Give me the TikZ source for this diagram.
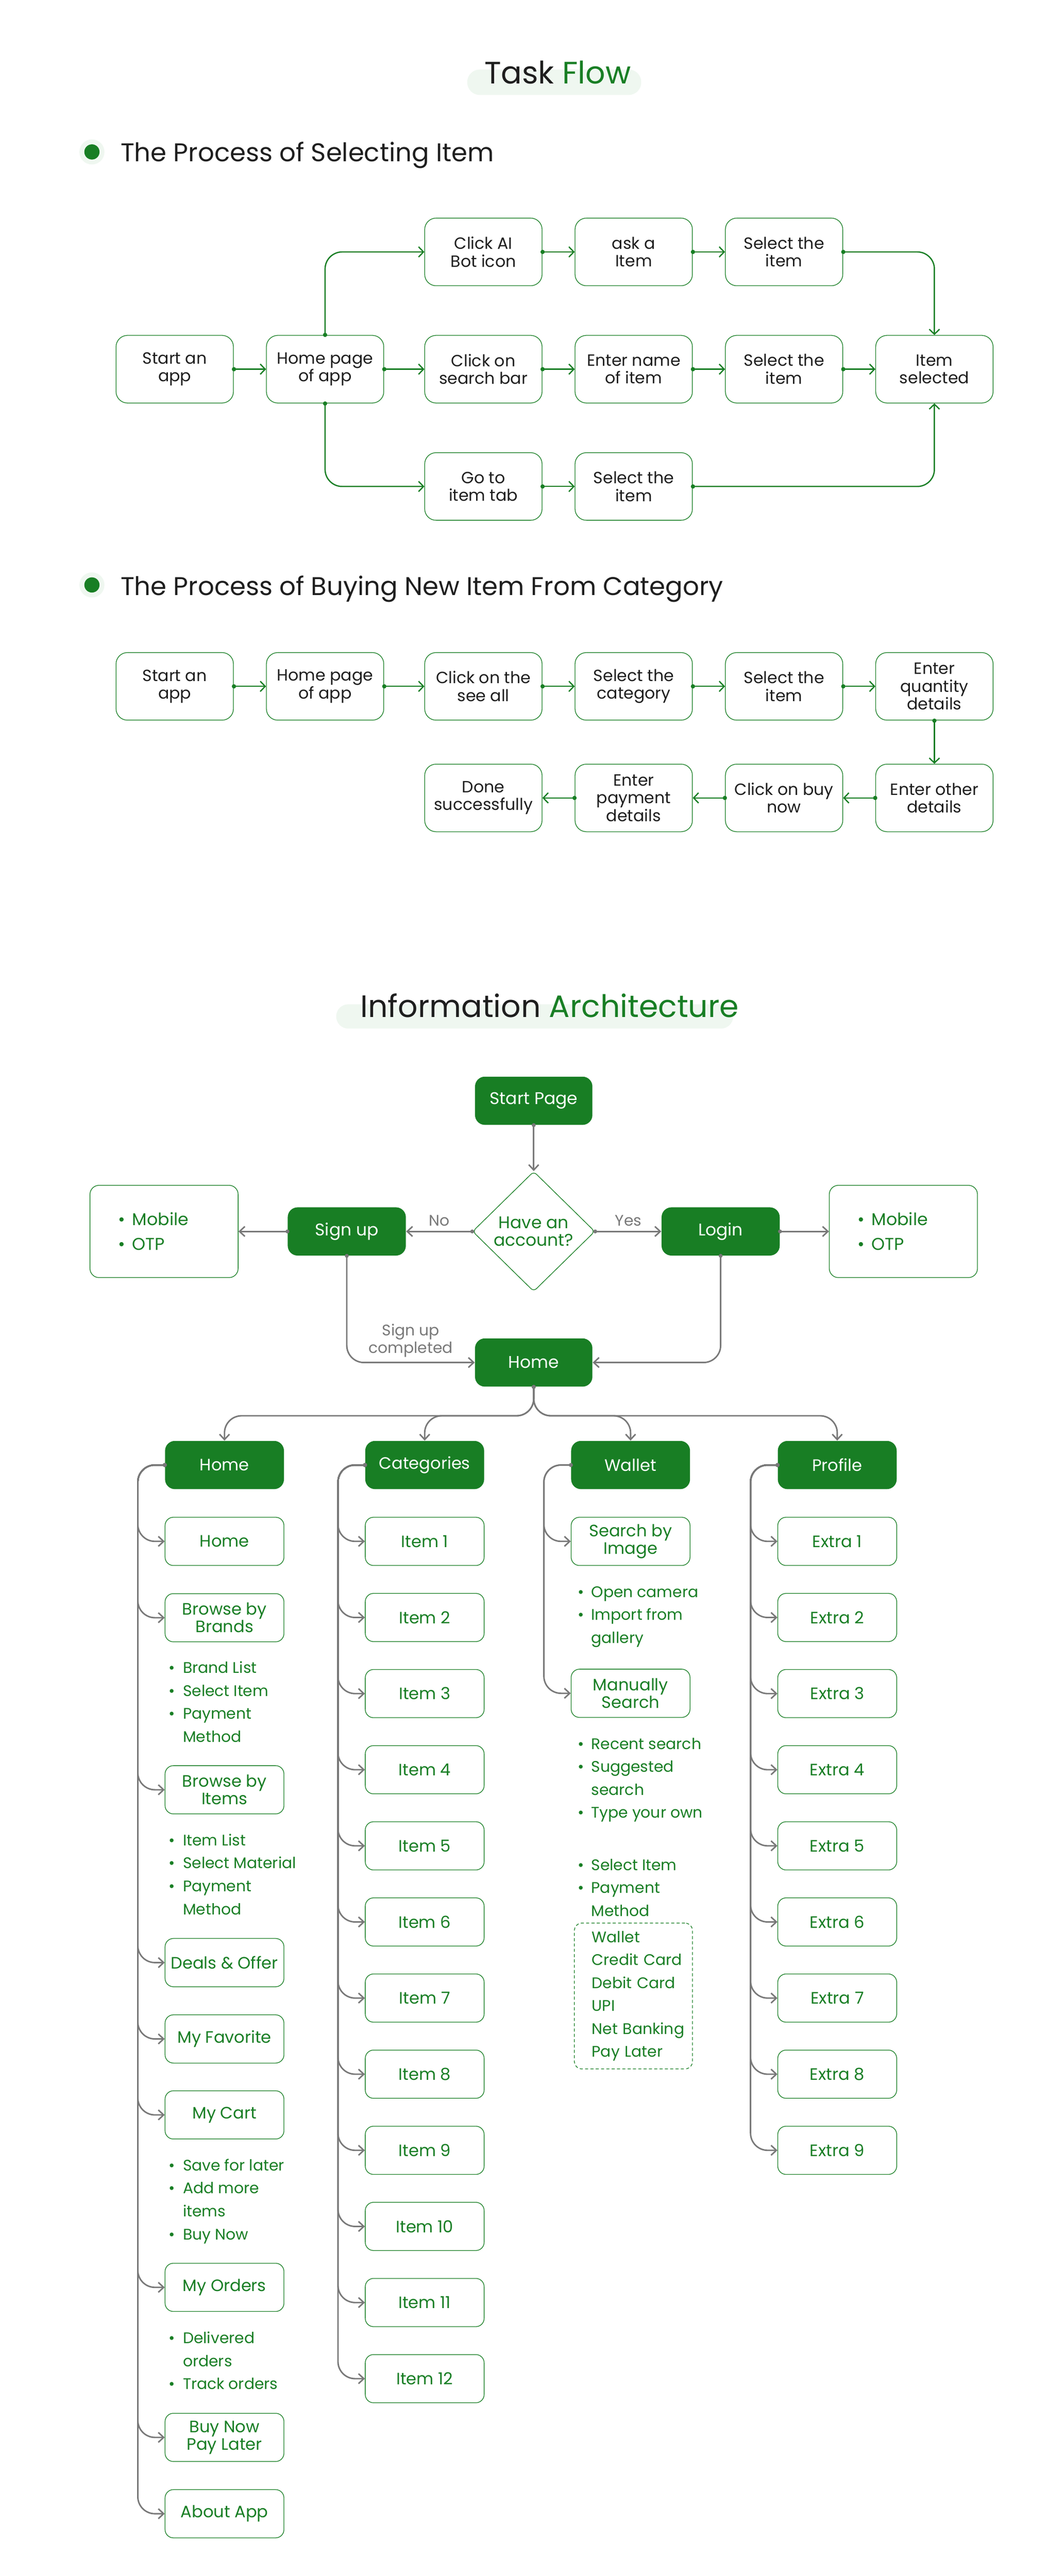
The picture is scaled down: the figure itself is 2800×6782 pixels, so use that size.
\documentclass[tikz,border=0pt]{standalone}
\usepackage{fontspec}
\setmainfont{Poppins}
\usetikzlibrary{arrows.meta, positioning, shapes.geometric}

\definecolor{leaf}{HTML}{187E24}
\definecolor{ink}{HTML}{1E1E1E}
\definecolor{slate}{HTML}{787878}
\definecolor{mist}{HTML}{EFF7F0}

\newcommand\ttlfont{\fontsize{23.2}{27}\selectfont}
\newcommand\hdgfont{\fontsize{19.2}{23}\selectfont}
\newcommand\flowfont{\fontsize{12.2}{13.3}\selectfont}
\newcommand\iafont{\fontsize{12.4}{13.1}\selectfont}
\newcommand\lstfont{\fontsize{11.5}{17.2}\selectfont}
\newcommand\notefont{\fontsize{12.7}{13.4}\selectfont}
\newcommand\lblfont{\fontsize{11.5}{13.4}\selectfont}
\newcommand\sidefont{\fontsize{12.8}{18.5}\selectfont}

\tikzstyle{flowbox}=[draw=leaf, line width=0.5pt, rounded corners=3mm, minimum width=30.9mm, minimum height=17.8mm, inner sep=1mm, align=center, text=ink, font=\flowfont]
\tikzstyle{flowarrow}=[draw=leaf, line width=0.95pt, rounded corners=4.5mm, shorten <=-0.5mm, {Circle[length=1.1mm]}-{Straight Barb[length=1.3mm, width=2.7mm]}]
\tikzstyle{hdrbox}=[fill=leaf, text=white, rounded corners=2.6mm, minimum width=31.3mm, minimum height=12.7mm, inner sep=1mm, align=center, font=\iafont]
\tikzstyle{subbox}=[draw=leaf, line width=0.5pt, text=leaf, rounded corners=2.2mm, minimum width=31.3mm, minimum height=12.7mm, inner sep=1mm, align=center, font=\iafont]
\tikzstyle{iaarrow}=[draw=slate, line width=1.1pt, rounded corners=4.5mm, shorten <=-0.5mm, {Circle[length=1mm]}-{Straight Barb[length=1.4mm, width=2.6mm]}]
\tikzstyle{ask}=[diamond, draw=leaf, line width=0.5pt, rounded corners=1mm, minimum width=32.2mm, minimum height=31.6mm, inner sep=0pt, align=center, text=leaf, font=\notefont]
\tikzstyle{sidebox}=[draw=leaf, line width=0.5pt, rounded corners=2.4mm, minimum width=39mm, minimum height=24.3mm, text width=24mm, inner xsep=7.5mm, align=left, text=leaf, font=\sidefont]
\tikzstyle{paybox}=[draw=leaf, line width=0.5pt, dash pattern=on 0.8mm off 0.6mm, rounded corners=2mm, minimum width=31.1mm, minimum height=38.4mm, text width=21.9mm, inner xsep=4.6mm, align=left, text=leaf, font=\lstfont]
\tikzstyle{blist}=[anchor=base west, inner sep=0pt, text=leaf, font=\lstfont]
\tikzstyle{lbl}=[text=slate, font=\lblfont, align=center]

\begin{document}
\begin{tikzpicture}[x=0.1mm, y=-0.1mm, node distance=12.9mm and 8.5mm]
  \useasboundingbox (0,0) rectangle (2800,6782);
  \fill[white] (0,0) rectangle (2800,6782);

  % task flow
  \fill[mist, rounded corners=3.3mm] (1230,183) rectangle (1688,250);
  \node[anchor=base, font=\ttlfont, text=ink] (tftitle) at (1468,221) {Task \textcolor{leaf}{Flow}};

  \fill[mist] (242,400) circle (3.3mm);
  \fill[leaf] (242,400) circle (2mm);
  \node[anchor=base west, font=\hdgfont, text=ink] (selhead) at (305,425) {The Process of Selecting Item};

  \node[flowbox] (a1) at (460,972) {Start an\\app};
  \node[flowbox, right=of a1] (a2) {Home page\\of app};
  \node[flowbox, right=10.6mm of a2] (a3) {Click on\\search bar};
  \node[flowbox, right=of a3] (a4) {Enter name\\of item};
  \node[flowbox, right=of a4] (a5) {Select the\\item};
  \node[flowbox, right=of a5] (a6) {Item\\selected};
  \node[flowbox, above=of a3] (b3) {Click AI\\Bot icon};
  \node[flowbox, right=of b3] (b4) {ask a\\Item};
  \node[flowbox, right=of b4] (b5) {Select the\\item};
  \node[flowbox, below=of a3] (c3) {Go to\\item tab};
  \node[flowbox, right=of c3] (c4) {Select the\\item};

  \draw[flowarrow] (a1) -- (a2);
  \draw[flowarrow] (a2) -- (a3);
  \draw[flowarrow] (a3) -- (a4);
  \draw[flowarrow] (a4) -- (a5);
  \draw[flowarrow] (a5) -- (a6);
  \draw[flowarrow] (a2.north) |- (b3.west);
  \draw[flowarrow] (b3) -- (b4);
  \draw[flowarrow] (b4) -- (b5);
  \draw[flowarrow] (b5.east) -| (a6.north);
  \draw[flowarrow] (a2.south) |- (c3.west);
  \draw[flowarrow] (c3) -- (c4);
  \draw[flowarrow] (c4.east) -| (a6.south);

  % buying from category
  \fill[mist] (242,1540) circle (3.3mm);
  \fill[leaf] (242,1540) circle (2mm);
  \node[anchor=base west, font=\hdgfont, text=ink] (buyhead) at (305,1567) {The Process of Buying New Item From Category};

  \node[flowbox] (d1) at (460,1807) {Start an\\app};
  \node[flowbox, right=of d1] (d2) {Home page\\of app};
  \node[flowbox, right=10.6mm of d2] (d3) {Click on the\\see all};
  \node[flowbox, right=of d3] (d4) {Select the\\category};
  \node[flowbox, right=of d4] (d5) {Select the\\item};
  \node[flowbox, right=of d5] (d6) {Enter\\quantity\\details};
  \node[flowbox, below=11.4mm of d6] (e6) {Enter other\\details};
  \node[flowbox, left=of e6] (e5) {Click on buy\\now};
  \node[flowbox, left=of e5] (e4) {Enter\\payment\\details};
  \node[flowbox, left=of e4] (e3) {Done\\successfully};

  \draw[flowarrow] (d1) -- (d2);
  \draw[flowarrow] (d2) -- (d3);
  \draw[flowarrow] (d3) -- (d4);
  \draw[flowarrow] (d4) -- (d5);
  \draw[flowarrow] (d5) -- (d6);
  \draw[flowarrow] (d6) -- (e6);
  \draw[flowarrow] (e6) -- (e5);
  \draw[flowarrow] (e5) -- (e4);
  \draw[flowarrow] (e4) -- (e3);

  % information architecture
  \fill[mist, rounded corners=3.2mm] (885,2644) rectangle (1930,2708);
  \node[anchor=base, font=\ttlfont, text=ink] (iatitle) at (1447,2678) {Information \textcolor{leaf}{Architecture}};

  \node[hdrbox, minimum width=30.9mm, font=\notefont] (start) at (1405,2898) {Start Page};
  \node[ask, below=12.1mm of start] (ask) {Have an\\account?};
  \node[hdrbox, minimum width=31.1mm, font=\notefont, left=17.4mm of ask] (signup) {Sign up};
  \node[hdrbox, minimum width=31.1mm, font=\notefont, right=17.4mm of ask] (login) {Login};
  \node[sidebox, left=12.9mm of signup] (lmeans) {\textbullet\hspace{1.8mm}Mobile\\\textbullet\hspace{1.8mm}OTP};
  \node[sidebox, right=12.9mm of login] (rmeans) {\textbullet\hspace{1.8mm}Mobile\\\textbullet\hspace{1.8mm}OTP};
  \node[hdrbox, minimum width=30.9mm, font=\notefont, below=12.2mm of ask] (iahome) {Home};

  \draw[iaarrow] (start) -- (ask);
  \draw[iaarrow] (ask) -- node[lbl, above] {No} (signup);
  \draw[iaarrow] (ask) -- node[lbl, above] {Yes} (login);
  \draw[iaarrow] (signup) -- (lmeans);
  \draw[iaarrow] (login) -- (rmeans);
  \draw[iaarrow] (signup.south) |- node[lbl, above, pos=0.75] {Sign up\\completed} (iahome.west);
  \draw[iaarrow] (login.south) |- (iahome.east);

  \node[hdrbox] (hhome) at (591,3857) {Home};
  \node[hdrbox] (hcat) at (1118,3857) {Categories};
  \node[hdrbox] (hwal) at (1660,3857) {Wallet};
  \node[hdrbox] (hpro) at (2204,3857) {Profile};
  \draw[iaarrow] (iahome.south) -- ++(0,76) -| (hhome.north);
  \draw[iaarrow] (iahome.south) -- ++(0,76) -| (hcat.north);
  \draw[iaarrow] (iahome.south) -- ++(0,76) -| (hwal.north);
  \draw[iaarrow] (iahome.south) -- ++(0,76) -| (hpro.north);

  % home column
  \node[subbox] (sh1) at (591,4058) {Home};
  \node[subbox] (sh2) at (591,4259) {Browse by\\Brands};
  \node[blist] (brandlist) at (444,4405) {\begin{tabular}[t]{@{}p{3.7mm}@{}l@{}}
    \textbullet & Brand List\\ \textbullet & Select Item\\ \textbullet & Payment\\ & Method\end{tabular}};
  \node[subbox] (sh3) at (591,4712) {Browse by\\Items};
  \node[blist] (itemlist) at (444,4859) {\begin{tabular}[t]{@{}p{3.7mm}@{}l@{}}
    \textbullet & Item List\\ \textbullet & Select Material\\ \textbullet & Payment\\ & Method\end{tabular}};
  \node[subbox] (sh4) at (591,5167) {Deals \& Offer};
  \node[subbox] (sh5) at (591,5368) {My Favorite};
  \node[subbox] (sh6) at (591,5568) {My Cart};
  \node[blist] (cartlist) at (444,5715) {\begin{tabular}[t]{@{}p{3.7mm}@{}l@{}}
    \textbullet & Save for later\\ \textbullet & Add more\\ & items\\ \textbullet & Buy Now\end{tabular}};
  \node[subbox] (sh7) at (591,6022) {My Orders};
  \node[blist] (orderlist) at (444,6170) {\begin{tabular}[t]{@{}p{3.7mm}@{}l@{}}
    \textbullet & Delivered\\ & orders\\ \textbullet & Track orders\end{tabular}};
  \node[subbox] (sh8) at (591,6417) {Buy Now\\Pay Later};
  \node[subbox] (sh9) at (591,6618) {About App};
  \foreach \k in {1,...,9}
    \draw[iaarrow] (hhome.west) -- ++(-71,0) |- (sh\k.west);

  % categories column
  \foreach \k in {1,...,12}{
    \node[subbox] (ci\k) at (1118,{4058+(\k-1)*200.4}) {Item \k};
    \draw[iaarrow] (hcat.west) -- ++(-71,0) |- (ci\k.west);
  }

  % wallet column
  \node[subbox] (sw1) at (1660,4058) {Search by\\Image};
  \node[blist] (camlist) at (1520,4205) {\begin{tabular}[t]{@{}p{3.6mm}@{}l@{}}
    \textbullet & Open camera\\ \textbullet & Import from\\ & gallery\end{tabular}};
  \node[subbox] (sw2) at (1660,4458) {Manually\\Search};
  \node[blist] (searchlist) at (1520,4605) {\begin{tabular}[t]{@{}p{3.6mm}@{}l@{}}
    \textbullet & Recent search\\ \textbullet & Suggested\\ & search\\ \textbullet & Type your own\end{tabular}};
  \node[blist] (paylist) at (1520,4924) {\begin{tabular}[t]{@{}p{3.6mm}@{}l@{}}
    \textbullet & Select Item\\ \textbullet & Payment\\ & Method\end{tabular}};
  \node[paybox] (pay) at (1667.5,5255) {\mbox{Wallet}\\\mbox{Credit Card}\\\mbox{Debit Card}\\\mbox{UPI}\\\mbox{Net Banking}\\\mbox{Pay Later}};
  \draw[iaarrow] (hwal.west) -- ++(-71,0) |- (sw1.west);
  \draw[iaarrow] (hwal.west) -- ++(-71,0) |- (sw2.west);

  % profile column
  \foreach \k in {1,...,9}{
    \node[subbox] (sp\k) at (2204,{4058+(\k-1)*200.4}) {Extra \k};
    \draw[iaarrow] (hpro.west) -- ++(-71,0) |- (sp\k.west);
  }
\end{tikzpicture}
\end{document}
